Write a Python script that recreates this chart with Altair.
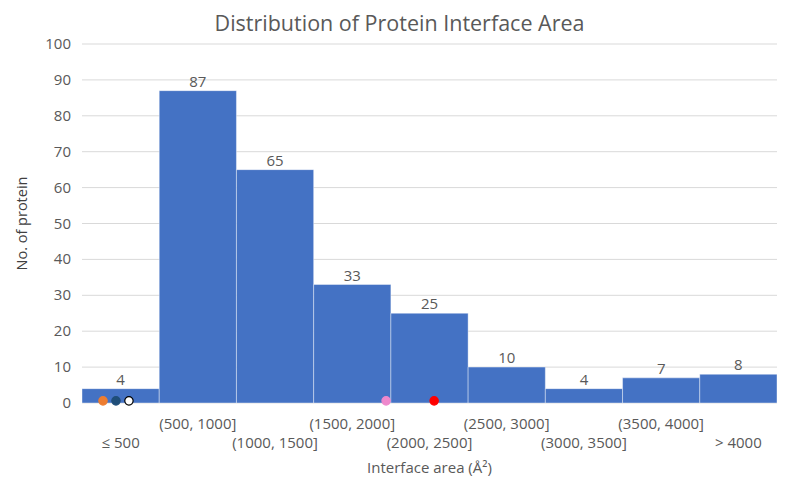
import altair as alt
import pandas as pd

labels = ["≤ 500", "(500, 1000]", "(1000, 1500]", "(1500, 2000]", "(2000, 2500]",
          "(2500, 3000]", "(3000, 3500]", "(3500, 4000]", "> 4000"]
counts = [4, 87, 65, 33, 25, 10, 4, 7, 8]
bin_width = 500
y_ticks = [0, 10, 20, 30, 40, 50, 60, 70, 80, 90, 100]

dot_x = [136, 220, 304, 1969, 2280]
dot_y = [0.6, 0.6, 0.6, 0.6, 0.6]
dot_fill = ["#ed7d31", "#1f4e79", "#ffffff", "#ee88cc", "#ff0000"]
dot_stroke = ["#ed7d31", "#1f4e79", "#000000", "#ee88cc", "#ff0000"]

bars = pd.DataFrame({
    "label": labels,
    "count": counts,
    "start": [i * bin_width for i in range(len(labels))],
    "end": [(i + 1) * bin_width for i in range(len(labels))],
    "mid": [(i + 0.5) * bin_width for i in range(len(labels))],
    "row": [i % 2 for i in range(len(labels))],
})
dots = pd.DataFrame({"x": dot_x, "count": dot_y, "fill": dot_fill, "stroke": dot_stroke})
grid = pd.DataFrame({"count": y_ticks})

FONT = "Open Sans"
W, H = 695, 359
GREY = "#595959"

xscale = alt.Scale(domain=[0, bin_width * len(labels)], nice=False, zero=False)
yscale = alt.Scale(domain=[0, 100], nice=False)

Y = alt.Y("count:Q", scale=yscale, axis=None)
X_start = alt.X("start:Q", scale=xscale, axis=None)
X_mid = alt.X("mid:Q", scale=xscale, axis=None)

gridlines = alt.Chart(grid).mark_rule(color="#d9d9d9", strokeWidth=1).encode(
    y=Y, x=alt.value(0), x2=alt.value(W))

ylabels = alt.Chart(grid).mark_text(font=FONT, fontSize=15, color=GREY, align="right",
                                    baseline="middle").encode(
    y=Y, x=alt.value(-11), text="count:Q")

ytitle = alt.Chart(pd.DataFrame({"t": ["No. of protein"]})).mark_text(
    font=FONT, fontSize=14.5, color="#404040", angle=270, baseline="middle").encode(
    x=alt.value(-59), y=alt.value(H / 2), text="t:N")

xtitle = alt.Chart(pd.DataFrame({"t": ["Interface area (Å²)"]})).mark_text(
    font=FONT, fontSize=15, color=GREY, baseline="middle").encode(
    x=alt.value(W / 2), y=alt.value(H + 65), text="t:N")

title = alt.Chart(pd.DataFrame({"t": ["Distribution of Protein Interface Area"]})).mark_text(
    font=FONT, fontSize=21.5, color=GREY, baseline="alphabetic").encode(
    x=alt.value(W / 2 - 30), y=alt.value(-13), text="t:N")

base = alt.Chart(bars)

bar = base.mark_rect(color="#4472c4", stroke="#ffffff", strokeWidth=0.8, strokeOpacity=0.5).encode(
    x=X_start, x2="end:Q", y=Y, y2=alt.datum(0),
)

val_text = base.mark_text(dy=-9, font=FONT, fontSize=15, color=GREY).encode(
    x=X_mid, y=Y, text="count:Q")

lab_top = base.transform_filter("datum.row == 1").mark_text(
    font=FONT, fontSize=15, color=GREY, baseline="middle").encode(
    x=X_mid, y=alt.value(H + 21), text="label:N")
lab_bot = base.transform_filter("datum.row == 0").mark_text(
    font=FONT, fontSize=15, color=GREY, baseline="middle").encode(
    x=X_mid, y=alt.value(H + 40), text="label:N")

pts = alt.Chart(dots).mark_point(filled=True, size=70, strokeWidth=1.2, opacity=1).encode(
    x=alt.X("x:Q", scale=xscale, axis=None), y=Y,
    fill=alt.Fill("fill:N", scale=None),
    stroke=alt.Stroke("stroke:N", scale=None),
)

chart = alt.layer(gridlines, ylabels, ytitle, xtitle, title, bar, val_text, lab_top, lab_bot, pts).properties(
    width=W, height=H,
    autosize=alt.AutoSizeParams(type="none"),
    padding={"left": 74, "top": 36, "right": 15, "bottom": 76},
).configure_view(stroke=None)

chart.save("out.html", embed_options={"renderer": "svg", "actions": False})
